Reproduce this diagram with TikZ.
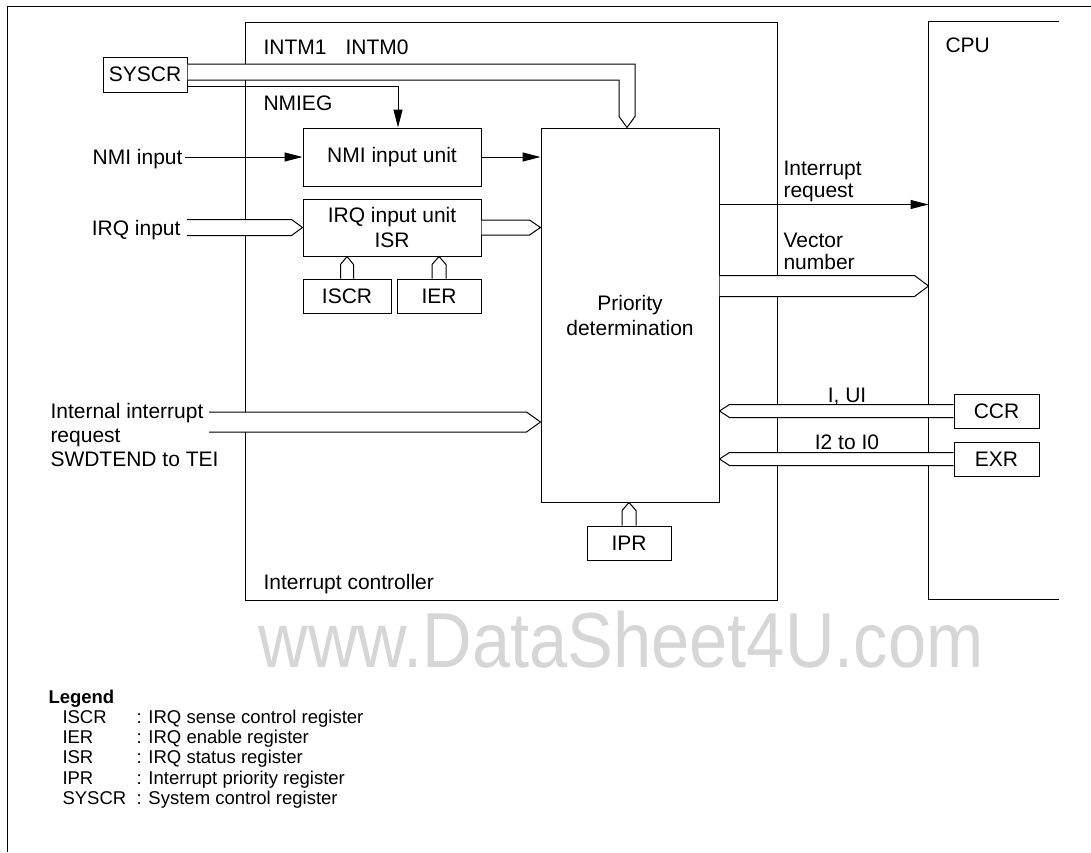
\documentclass[tikz,border=0pt]{standalone}
\usepackage{fontspec}
\setmainfont{Liberation Sans}
\usetikzlibrary{arrows.meta,calc}
\definecolor{wmgray}{RGB}{214,214,214}
\newcommand\fs{\fontsize{21}{25}\selectfont}
\newcommand\lfs{\fontsize{18.5}{20.5}\selectfont}
\newcommand\busright[4]{%
  \fill[white] ($(#1 |- #2)+(0,-#3)$) -- ($(#2)+(-#4,-#3)$) -- (#2) -- ($(#2)+(-#4,#3)$) -- ($(#1 |- #2)+(0,#3)$) -- cycle;
  \draw ($(#1 |- #2)+(0,-#3)$) -- ($(#2)+(-#4,-#3)$) -- (#2) -- ($(#2)+(-#4,#3)$) -- ($(#1 |- #2)+(0,#3)$);}
\newcommand\busleft[4]{%
  \fill[white] ($(#1 |- #2)+(0,-#3)$) -- ($(#2)+(#4,-#3)$) -- (#2) -- ($(#2)+(#4,#3)$) -- ($(#1 |- #2)+(0,#3)$) -- cycle;
  \draw ($(#1 |- #2)+(0,-#3)$) -- ($(#2)+(#4,-#3)$) -- (#2) -- ($(#2)+(#4,#3)$) -- ($(#1 |- #2)+(0,#3)$);}
\newcommand\busup[4]{%
  \fill[white] ($(#1)+(-#3,0)$) -- ($(#2)+(-#3,#4)$) -- (#2) -- ($(#2)+(#3,#4)$) -- ($(#1)+(#3,0)$) -- cycle;
  \draw ($(#1)+(-#3,0)$) -- ($(#2)+(-#3,#4)$) -- (#2) -- ($(#2)+(#3,#4)$) -- ($(#1)+(#3,0)$);}
\begin{document}
\begin{tikzpicture}[x=1pt,y=-1pt,line width=1pt,
  box/.style={draw, inner sep=0pt, font=\fs, align=center},
  lbl/.style={inner sep=0pt, font=\fs, text height=15pt, text depth=0pt},
  leglbl/.style={inner sep=0pt, font=\lfs, text height=13pt, text depth=0pt, anchor=west},
  arr/.style={-{Triangle[length=18pt,width=9pt]}}]
\useasboundingbox (0,0) rectangle (1091,852);
% outer frame
\draw (7,852) -- (7,6) -- (1091,6);
% watermark
\node[inner sep=0pt, text=wmgray, font=\fontsize{78}{78}\selectfont] (wm) at (621,640) {\scalebox{0.88}[1]{www.DataSheet4U.com}};
% big frames
\node[draw, minimum width=532, minimum height=578, inner sep=0pt] (ic) at (511,311) {};
\node[minimum width=129, minimum height=577, inner sep=0pt] (cpu) at (993.5,310.5) {};
\draw (cpu.north east) -- (cpu.north west) -- (cpu.south west) -- (cpu.south east);
% boxes
\node[box, minimum width=84, minimum height=35] (sys) at (145,74.5) {SYSCR};
\node[box, minimum width=178, minimum height=58] (nmi) at (392,157) {NMI input unit};
\node[box, minimum width=178, minimum height=57] (irq) at (392,227.5) {IRQ input unit\\ISR};
\node[box, minimum width=88, minimum height=34] (iscr) at (347,296) {ISCR};
\node[box, minimum width=84, minimum height=34] (ier) at (439,296) {IER};
\node[box, minimum width=178, minimum height=374] (prio) at (630,315) {Priority\\determination};
\node[box, minimum width=84, minimum height=34] (ipr) at (629,543) {IPR};
\node[box, minimum width=85, minimum height=34] (ccr) at (996.5,411) {CCR};
\node[box, minimum width=85, minimum height=34] (exr) at (996.5,459) {EXR};
% labels
\node[lbl, anchor=west] (intma) at (263,47) {INTM1};
\node[lbl, anchor=east] (intmb) at (409,47) {INTM0};
\node[lbl, anchor=west] (nmieg) at (263,103) {NMIEG};
\node[lbl, anchor=east] (nmiin) at (183,157) {NMI input};
\node[lbl, anchor=east] (irqin) at (181,227.5) {IRQ input};
\node[lbl, anchor=west] (inta) at (50,411) {Internal interrupt};
\node[lbl, anchor=west] (intb) at (50,435) {request};
\node[lbl, anchor=west] (intc) at (50,459) {SWDTEND to TEI};
\node[lbl, anchor=west] (icl) at (263,582) {Interrupt controller};
\node[lbl, anchor=west] (cpul) at (945,45) {CPU};
\node[lbl, anchor=west] (ira) at (783,168) {Interrupt};
\node[lbl, anchor=west] (irb) at (783,190) {request};
\node[lbl, anchor=west] (vna) at (783,240) {Vector};
\node[lbl, anchor=west] (vnb) at (783,262) {number};
\node[lbl] (iui) at (847,395) {I, UI};
\node[lbl] (itoi) at (847,442) {I2 to I0};
% INTM bus
\coordinate (intmtip) at ($(prio.north)+(-3,0)$);
\coordinate (intmR) at ($(intmtip)+(8,-11)$);
\coordinate (intmL) at ($(intmtip)+(-8,-11)$);
\coordinate (intmA) at ($(sys.east)+(0,-10.5)$);
\coordinate (intmB) at ($(sys.east)+(0,5.5)$);
\fill[white] (intmA) -- (intmA -| intmR) -- (intmR) -- (intmtip) -- (intmL) -- (intmB -| intmL) -- (intmB) -- cycle;
\draw (intmA) -- (intmA -| intmR) -- (intmR) -- (intmtip) -- (intmL) -- (intmB -| intmL) -- (intmB);
% NMIEG
\coordinate (nmiegS) at ($(sys.east)+(0,11.5)$);
\coordinate (nmiegT) at ($(nmi.north)+(6,0)$);
\draw[arr] (nmiegS) -| (nmiegT);
% NMI
\draw[arr] ([xshift=2pt]nmiin.east) -- (nmi.west);
\coordinate (nmiP) at (nmi.east -| prio.west);
\draw[arr] (nmi.east) -- (nmiP);
% IRQ
\coordinate (irqS) at ($(irqin.east)+(6,0)$);
\busright{irqS}{irq.west}{8}{11}
\coordinate (irqT) at (irq.east -| prio.west);
\busright{irq.east}{irqT}{7.5}{11}
% internal
\coordinate (intS) at (209,422);
\coordinate (intT) at (intS -| prio.west);
\busright{intS}{intT}{10}{14}
% register buses
\coordinate (iscrT) at (iscr.north |- irq.south);
\busup{iscr.north}{iscrT}{6.5}{8}
\coordinate (ierT) at (ier.north |- irq.south);
\busup{ier.north}{ierT}{7}{8}
\coordinate (iprT) at (ipr.north |- prio.south);
\busup{ipr.north}{iprT}{7}{8}
% right side
\coordinate (ireqS) at ($(prio.north east)+(0,77)$);
\coordinate (ireqT) at (ireqS -| cpu.west);
\draw[arr] (ireqS) -- (ireqT);
\coordinate (vecS) at ($(prio.north east)+(0,158.5)$);
\coordinate (vecT) at (vecS -| cpu.west);
\busright{vecS}{vecT}{10.5}{14}
\coordinate (ccrT) at (ccr.west -| prio.east);
\busleft{ccr.west}{ccrT}{6.5}{10}
\coordinate (exrT) at (exr.west -| prio.east);
\busleft{exr.west}{exrT}{6.5}{10}
% legend
\node[leglbl, font=\lfs\bfseries] (leg) at (48,697) {Legend};
\node[leglbl] (l1) at (62,717) {ISCR};
\node[leglbl] (d1) at (136,717) {: IRQ sense control register};
\node[leglbl] (l2) at (62,737) {IER};
\node[leglbl] (d2) at (136,737) {: IRQ enable register};
\node[leglbl] (l3) at (62,757) {ISR};
\node[leglbl] (d3) at (136,757) {: IRQ status register};
\node[leglbl] (l4) at (62,778) {IPR};
\node[leglbl] (d4) at (136,778) {: Interrupt priority register};
\node[leglbl] (l5) at (62,798) {SYSCR};
\node[leglbl] (d5) at (136,798) {: System control register};
\end{tikzpicture}
\end{document}
